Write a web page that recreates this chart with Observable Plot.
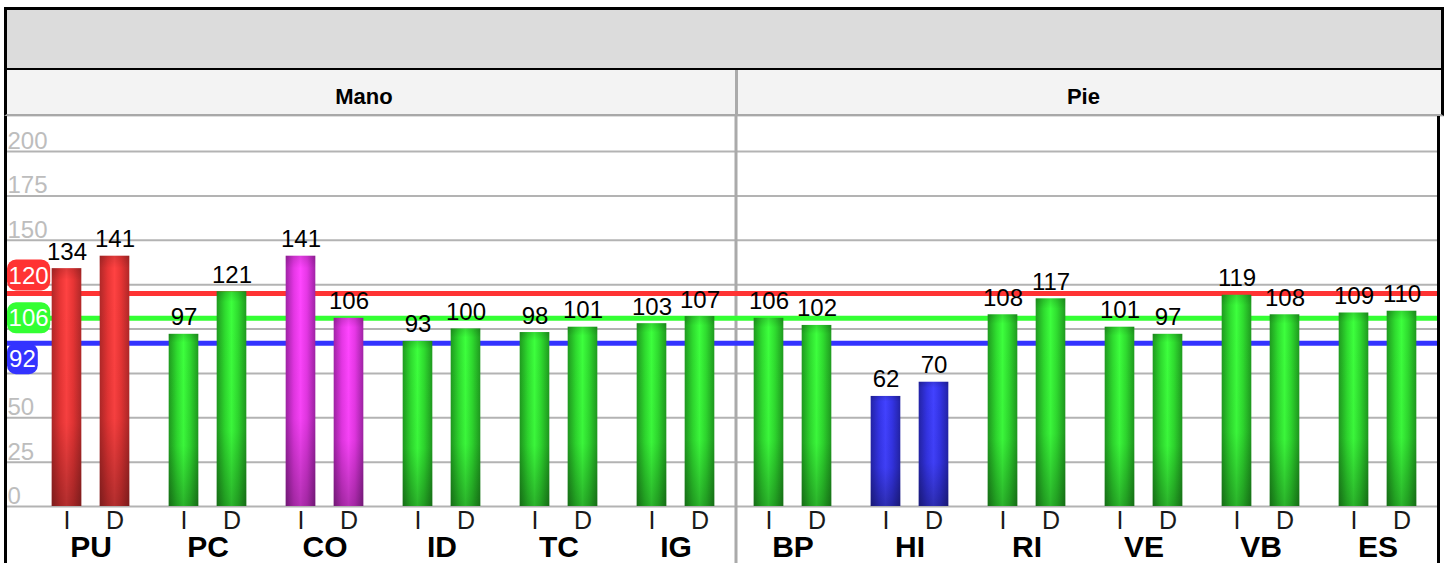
<!DOCTYPE html>
<html>
<head>
<meta charset="utf-8">
<script src="https://cdn.jsdelivr.net/npm/d3@7"></script>
<script src="https://cdn.jsdelivr.net/npm/@observablehq/plot@0.6"></script>
<style>
  html, body { margin: 0; padding: 0; background: #fff; }
  body { width: 1447px; height: 563px; overflow: hidden; position: relative;
         font-family: Arial, "Liberation Sans", Helvetica, sans-serif; }
  #title { position: absolute; left: 4px; top: 7px; width: 1440px; height: 64px;
           box-sizing: border-box; border: 3px solid #000; background: #dcdcdc; }
  #hdr { position: absolute; left: 4px; top: 70px; width: 1440px; height: 46px;
         box-sizing: border-box; border-left: 3px solid #000; border-right: 3px solid #000;
         border-bottom: 2px solid #a8a8a8; background: #f3f3f3; box-shadow: 0 1px 0 #dedede; }
  .fl { position: absolute; top: 16px; font-weight: bold; font-size: 22px; line-height: 22px;
        color: #000; transform: translateX(-50%); white-space: nowrap; }
  #hdiv { position: absolute; top: 70px; width: 3px; height: 46px; background: #aaa; }
  #chart { position: absolute; left: 0; top: 116px; }
  .vb { position: absolute; top: 116px; width: 3px; height: 447px; background: #000; }
  #defs { position: absolute; width: 0; height: 0; left: 0; top: 0; }
</style>
</head>
<body>
<svg id="defs" width="0" height="0"><defs></defs></svg>
<div id="title"></div>
<div id="hdr"></div>
<div id="hdiv"></div>
<div id="chart"></div>
<div class="vb" style="left:4px"></div>
<div class="vb" style="left:1437px"></div>
<script>
// ---------------- data ----------------
const facets = ["Mano", "Pie"];
const groups = ["PU", "PC", "CO", "ID", "TC", "IG", "BP", "HI", "RI", "VE", "VB", "ES"];
const groupFacet = ["Mano", "Mano", "Mano", "Mano", "Mano", "Mano", "Pie", "Pie", "Pie", "Pie", "Pie", "Pie"];
const sides = ["I", "D"];
const valuesI = [134, 97, 141, 93, 98, 103, 106, 62, 108, 101, 119, 109];
const valuesD = [141, 121, 106, 100, 101, 107, 102, 70, 117, 97, 108, 110];
const groupColor = ["red", "green", "magenta", "green", "green", "green", "green", "blue", "green", "green", "green", "green"];
const refValues = [120, 106, 92];
const refColorKey = ["red", "green", "blue"];
const yTicks = [0, 25, 50, 75, 100, 125, 150, 175, 200];
// tick labels that are visible (75, 100 and 125 are hidden under the value badges)
const yTickLabels = [0, 25, 50, 150, 175, 200];

// ---------------- styles ----------------
const palette = {
  red:     { edge: "#b02828", mid: "#e83535", hi: "#ff4242", line: "#ff3333" },
  green:   { edge: "#1f9a1f", mid: "#2fdc2f", hi: "#3dff3d", line: "#33ff33" },
  magenta: { edge: "#a023a6", mid: "#e637e6", hi: "#ff45ff", line: "#ff33ff" },
  blue:    { edge: "#2323a6", mid: "#3434e6", hi: "#4242ff", line: "#3333ff" }
};
const badgeShift = [-18, 0, 16];
const headerShift = [-26, -8.6];

// gradients
const defs = d3.select("#defs defs");
Object.entries(palette).forEach(([k, c]) => {
  const g = defs.append("linearGradient").attr("id", "g-" + k)
    .attr("x1", 0).attr("y1", 0).attr("x2", 1).attr("y2", 0);
  [[0, c.edge], [0.28, c.mid], [0.5, c.hi], [0.72, c.mid], [1, c.edge]].forEach(([o, col]) =>
    g.append("stop").attr("offset", o).attr("stop-color", col));
});
const sh = defs.append("linearGradient").attr("id", "shade")
  .attr("x1", 0).attr("y1", 0).attr("x2", 0).attr("y2", 1);
[[0, 0.14], [0.05, 0], [0.65, 0.04], [1, 0.3]].forEach(([o, a]) =>
  sh.append("stop").attr("offset", o).attr("stop-color", "#000").attr("stop-opacity", a));

// rows
const rows = [];
groups.forEach((g, i) => {
  rows.push({ group: g, side: sides[0], value: valuesI[i], color: groupColor[i] });
  rows.push({ group: g, side: sides[1], value: valuesD[i], color: groupColor[i] });
});
const refs = refValues.map((v, i) => ({ value: v, color: palette[refColorKey[i]].line }));

const W = 1447, H = 447;
const xRange = [29.3, 1437.7];
const band = (xRange[1] - xRange[0]) / groups.length;
const barW = 30, half = 24;
const inset = (band - barW) / 2;
const font = "Arial, 'Liberation Sans', Helvetica, sans-serif";

const bySide = s => rows.filter(d => d.side === s);
const offs = { I: -half, D: half };

const barMarks = sides.flatMap(s => [
  Plot.barY(bySide(s), { x: "group", y: "value", fill: d => `url(#g-${d.color})`,
    insetLeft: inset, insetRight: inset, dx: offs[s] }),
  Plot.barY(bySide(s), { x: "group", y: "value", fill: "url(#shade)",
    insetLeft: inset, insetRight: inset, dx: offs[s] }),
  Plot.text(bySide(s), { x: "group", y: "value", text: d => String(d.value), dx: offs[s], dy: -9,
    lineAnchor: "bottom", fontSize: 24, fill: "#000" }),
  Plot.text(groups, { x: d => d, text: () => s, frameAnchor: "bottom", lineAnchor: "bottom",
    dx: offs[s], dy: 22, fontSize: 25, fill: "#1a1a1a" })
]);

const plot = Plot.plot({
  width: W, height: H,
  marginLeft: 7, marginRight: 10, marginTop: 35, marginBottom: 57,
  x: { type: "band", domain: groups, range: xRange, padding: 0, axis: null },
  y: { domain: [0, 200], axis: null },
  color: { type: "identity" },
  style: { fontFamily: font, background: "transparent", overflow: "visible" },
  marks: [
    Plot.ruleY(yTicks, { stroke: "#b3b3b3", strokeWidth: 2 }),
    Plot.text(yTickLabels, { y: d => d, text: d => String(d), frameAnchor: "left", textAnchor: "start",
      lineAnchor: "bottom", dy: -2.5, fontSize: 24, fill: "#bdbdbd" }),
    Plot.ruleY(refs, { y: "value", stroke: "color", strokeWidth: 5 }),
    ...barMarks,
    Plot.text(groups, { x: d => d, text: d => d, frameAnchor: "bottom", lineAnchor: "bottom",
      dy: 50.5, fontSize: 30, fontWeight: "bold", fill: "#000" })
  ]
});
document.getElementById("chart").appendChild(plot);

// divider between facets (from x scale)
const xs = plot.scale("x");
const firstPie = groups[groupFacet.indexOf(facets[1])];
const divX = xs.apply(firstPie) + 2;
const svg = d3.select(plot);
const rules = plot.querySelectorAll('g[aria-label="rule"]');
const div = document.createElementNS("http://www.w3.org/2000/svg", "line");
d3.select(div).attr("x1", divX).attr("x2", divX).attr("y1", 0).attr("y2", H)
  .attr("stroke", "#aaa").attr("stroke-width", 3);
if (rules.length > 1) plot.insertBefore(div, rules[1]); else plot.appendChild(div);
document.getElementById("hdiv").style.left = (divX - 1.5) + "px";

// facet header labels
const hdr = document.getElementById("hdr");
const centers = facets.map(f => {
  const gs = groups.filter((g, i) => groupFacet[i] === f);
  const a = xs.apply(gs[0]), b = xs.apply(gs[gs.length - 1]) + xs.bandwidth;
  return (a + b) / 2;
});
facets.forEach((f, i) => {
  const s = document.createElement("span");
  s.className = "fl"; s.textContent = f;
  s.style.left = (centers[i] + headerShift[i]) + "px";
  hdr.appendChild(s);
});

// value badges on the left
const ys = plot.scale("y");
const bg = svg.append("g");
refs.forEach((r, i) => {
  const cy = ys.apply(r.value) + badgeShift[i];
  const label = String(r.value);
  const w = label.length * 12.4 + 6;
  bg.append("rect").attr("x", 7).attr("y", cy - 15.5).attr("width", w).attr("height", 31)
    .attr("rx", 9).attr("fill", r.color);
  bg.append("text").attr("x", 7 + w / 2).attr("y", cy + 8.5).attr("text-anchor", "middle")
    .attr("font-size", 24).attr("font-family", font).attr("fill", "#fff").text(label);
});
</script>
</body>
</html>
